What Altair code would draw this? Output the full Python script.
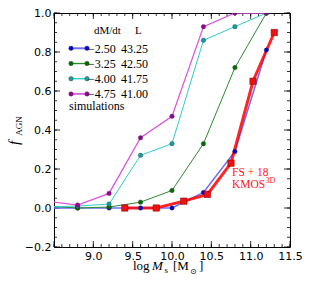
import altair as alt
import pandas as pd

# ---- data ----
x_sim = [8.4, 8.8, 9.2, 9.6, 10.0, 10.4, 10.8, 11.2]
f_m250 = [0.0, 0.0, 0.0, 0.0, 0.0, 0.08, 0.29, 0.81]
f_m325 = [0.01, 0.0, 0.005, 0.03, 0.09, 0.33, 0.72, 1.0]
f_m400 = [0.005, 0.01, 0.02, 0.27, 0.33, 0.86, 0.93, 1.0]
f_m475 = [0.035, 0.015, 0.075, 0.36, 0.47, 0.93, 1.0, 1.0]
sim_series = [f_m250, f_m325, f_m400, f_m475]
dmdt_labels = ["−2.50", "−3.25", "−4.00", "−4.75"]
L_labels = ["43.25", "42.50", "41.75", "41.00"]
point_colors = ["#0000dd", "#006f00", "#14a0a0", "#990099"]
line_colors = ["#7070ff", "#2e8b2e", "#33cccc", "#dd55dd"]
line_widths = [1.6, 1.0, 1.0, 1.3]

x_obs = [9.4, 9.8, 10.15, 10.45, 10.75, 11.03, 11.3]
f_obs = [0.0, 0.0, 0.035, 0.07, 0.23, 0.65, 0.90]

x_tick_labels = [9.0, 9.5, 10.0, 10.5, 11.0, 11.5]
y_tick_labels = [-0.2, 0.0, 0.2, 0.4, 0.6, 0.8, 1.0]
x_major = [8.5 + 0.5 * i for i in range(7)]
x_minor = [round(8.5 + 0.1 * i, 2) for i in range(31)]
y_major = [round(-0.2 + 0.2 * i, 2) for i in range(7)]
y_minor = [round(-0.2 + 0.05 * i, 3) for i in range(25)]

W, H = 236, 234
SERIF = "Liberation Serif, DejaVu Serif, Times New Roman, serif"

xs = alt.Scale(domain=[8.5, 11.5], nice=False, zero=False)
ys = alt.Scale(domain=[-0.2, 1.0], nice=False, zero=False)
xaxis = alt.Axis(values=x_tick_labels, format=".1f", title=None, grid=False,
                 ticks=False, domain=False, labelFlush=False, labelOverlap=False,
                 labelFont="DejaVu Sans", labelFontSize=11, labelColor="black",
                 labelPadding=3)
yaxis = alt.Axis(values=y_tick_labels, format=".1f", title=None, grid=False,
                 ticks=False, domain=False, labelFlush=False, labelOverlap=False,
                 labelFont="DejaVu Sans", labelFontSize=11, labelColor="black",
                 labelPadding=3)


def X():
    return alt.X("x:Q", scale=xs, axis=xaxis)


def Y():
    return alt.Y("y:Q", scale=ys, axis=yaxis)


layers = []


def xticks(vals, length):
    d = pd.DataFrame({"x": vals})
    b = alt.Chart(d).mark_rule(color="black", strokeWidth=0.8).encode(
        x=X(), y=alt.value(H), y2=alt.value(H - length))
    t = alt.Chart(d).mark_rule(color="black", strokeWidth=0.8).encode(
        x=X(), y=alt.value(0), y2=alt.value(length))
    return [b, t]


def yticks(vals, length):
    d = pd.DataFrame({"y": vals})
    l = alt.Chart(d).mark_rule(color="black", strokeWidth=0.8).encode(
        y=Y(), x=alt.value(0), x2=alt.value(length))
    r = alt.Chart(d).mark_rule(color="black", strokeWidth=0.8).encode(
        y=Y(), x=alt.value(W), x2=alt.value(W - length))
    return [l, r]


layers += xticks(x_major, 6) + xticks(x_minor, 3)
layers += yticks(y_major, 6) + yticks(y_minor, 3)

# simulation lines
for vals, lc, lw in zip(sim_series, line_colors, line_widths):
    d = pd.DataFrame({"x": x_sim, "y": vals})
    layers.append(alt.Chart(d).mark_line(color=lc, strokeWidth=lw, clip=True)
                  .encode(x=X(), y=Y()))

# observations (FS+18 KMOS3D)
dobs = pd.DataFrame({"x": x_obs, "y": f_obs})
layers.append(alt.Chart(dobs).mark_line(color="#ff0000", strokeWidth=3,
                                        opacity=0.85, clip=True)
              .encode(x=X(), y=Y()))

# simulation points
for vals, pc in zip(sim_series, point_colors):
    d = pd.DataFrame({"x": x_sim, "y": vals})
    layers.append(alt.Chart(d).mark_circle(size=20, color=pc, opacity=1,
                                           stroke="#333333", strokeWidth=0.4,
                                           clip=True)
                  .encode(x=X(), y=Y()))

layers.append(alt.Chart(dobs).mark_square(size=40, color="#ee1111", opacity=1,
                                          stroke="#990000", strokeWidth=0.6,
                                          clip=True)
              .encode(x=X(), y=Y()))


def txt(s, x, y, size=12, color="black", style="normal", align="left",
        baseline="middle", angle=0, font=SERIF):
    return alt.Chart(pd.DataFrame({"t": [s]})).mark_text(
        align=align, baseline=baseline, fontSize=size, font=font,
        fontStyle=style, color=color, angle=angle).encode(
        text="t:N", x=alt.value(x), y=alt.value(y))


# legend
layers.append(txt("dM/dt", 40, 18, size=11))
layers.append(txt("L", 81, 18, size=11))
for i in range(4):
    yy = 35.3 + 15.2 * i
    layers.append(alt.Chart(pd.DataFrame({"t": [0]})).mark_rule(
        color=line_colors[i], strokeWidth=line_widths[i] + 0.4).encode(
        x=alt.value(17), x2=alt.value(33), y=alt.value(yy)))
    for px in (17, 33):
        layers.append(alt.Chart(pd.DataFrame({"t": [0]})).mark_circle(
            size=20, color=point_colors[i], opacity=1, stroke="#333333",
            strokeWidth=0.4).encode(x=alt.value(px), y=alt.value(yy)))
    layers.append(txt(dmdt_labels[i], 34, yy + 0.5))
    layers.append(txt(L_labels[i], 67, yy + 0.5))
layers.append(txt("simulations", 15, 93))

# observation annotation
layers.append(txt("FS + 18", 178, 163, size=11.5, color="#ff2020",
                  baseline="alphabetic"))
layers.append(txt("KMOS", 178, 175, size=11.5, color="#ff2020",
                  baseline="alphabetic"))
layers.append(txt("3D", 211.5, 170, size=8, color="#ff2020",
                  baseline="alphabetic"))

# axis titles
layers.append(txt("f", -40, 130, size=15, style="italic", align="center",
                  angle=270))
layers.append(txt("AGN", -35, 113, size=9, align="center", angle=270))

layers.append(txt("log", 79, 257, size=13, baseline="alphabetic"))
layers.append(txt("M", 98, 257, size=13, style="italic", baseline="alphabetic"))
layers.append(txt("s", 110.5, 260, size=9, baseline="alphabetic"))
layers.append(txt("[M", 119, 257, size=13, baseline="alphabetic"))
layers.append(txt("⊙", 136, 261, size=8, baseline="alphabetic",
                  font="DejaVu Sans"))
layers.append(txt("]", 145, 257, size=13, baseline="alphabetic"))

chart = alt.layer(*layers).properties(
    width=W, height=H,
    autosize=alt.AutoSizeParams(type="none"),
    padding={"left": 46, "top": 5, "right": 12, "bottom": 30},
).configure_view(stroke="black", strokeWidth=1)

chart.save("out.html", embed_options={"renderer": "svg", "actions": False})
